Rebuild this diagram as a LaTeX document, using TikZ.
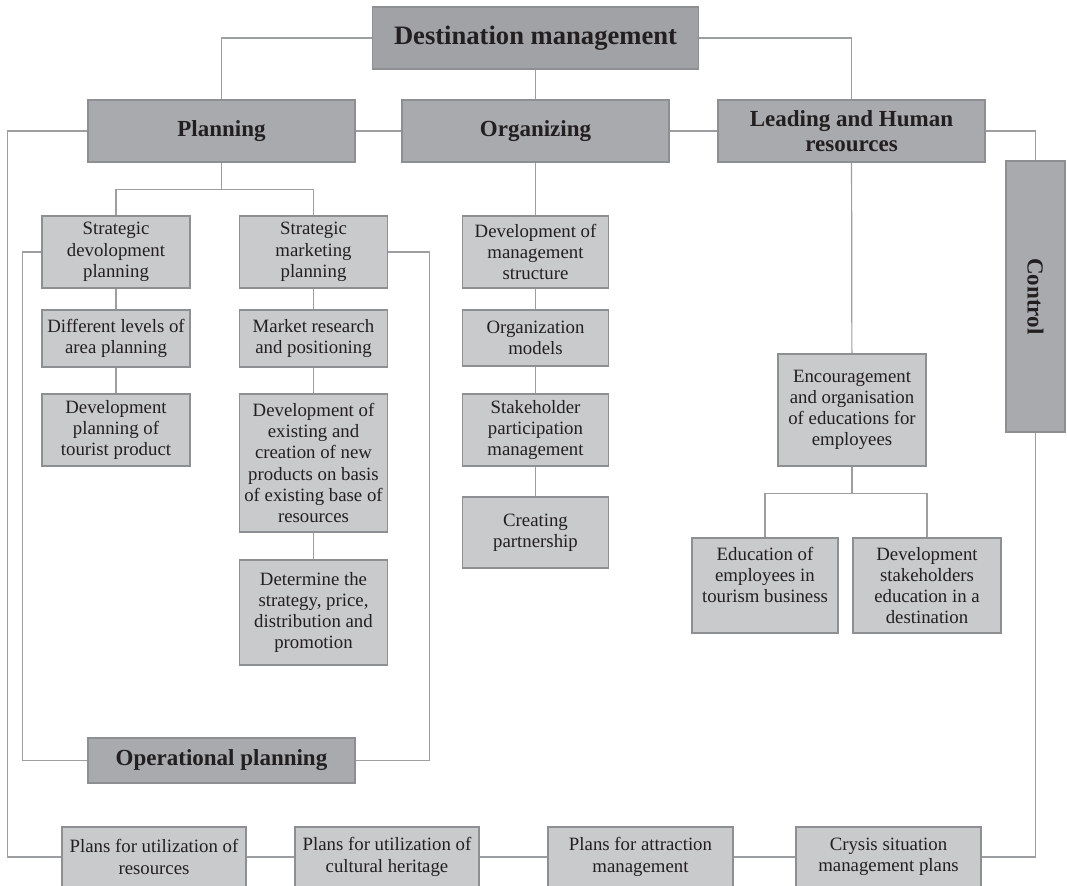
\documentclass[tikz,border=0pt]{standalone}
\usepackage{fontspec}
\setmainfont{Liberation Serif}

\definecolor{boxdark}{HTML}{A8AAAD}
\definecolor{boxtop}{HTML}{A0A2A5}
\definecolor{boxlight}{HTML}{C9CACC}
\definecolor{edgegray}{HTML}{8E8F92}
\definecolor{linegray}{HTML}{9D9EA1}
\definecolor{inkgray}{HTML}{231F20}

\tikzset{
  box/.style={draw=edgegray, line width=0.8pt, inner sep=0pt, align=center, text=inkgray},
  headbox/.style={box, fill=boxdark, minimum width=133.5pt, minimum height=31pt,
    font=\fontsize{11.5}{12.5}\selectfont\bfseries},
  itembox/.style={box, fill=boxlight, minimum width=74pt,
    font=\fontsize{9.4}{10.6}\selectfont},
  link/.style={draw=linegray, line width=0.6pt},
}

\begin{document}
\begin{tikzpicture}[x=0.5pt, y=-0.5pt]
   \useasboundingbox (0,0) rectangle (1067,886);

   % top levels
   \node[headbox, fill=boxtop, minimum width=163pt, font=\fontsize{13.3}{14}\selectfont\bfseries] (dest) at (535.5,38) {Destination management};
   \node[headbox] (plan) at (221.5,131) {Planning};
   \node[headbox] (org) at (535.5,131) {Organizing};
   \node[headbox] (lead) at (851.5,131) {Leading and Human\\resources};
   \node[headbox, minimum width=29.5pt, minimum height=135.5pt] (ctrl) at (1035.5,296.5) {\rotatebox{-90}{Control}};

   % planning
   \node[itembox, minimum height=36pt] (sdp) at (116,252) {Strategic\\devolopment\\planning};
   \node[itembox, minimum height=36pt] (smp) at (313.5,252) {Strategic\\marketing\\planning};
   \node[itembox, minimum height=28.5pt] (dlap) at (116,338.5) {Different levels of\\area planning};
   \node[itembox, minimum height=36pt] (dptp) at (116,430) {Development\\planning of\\tourist product};
   \node[itembox, minimum height=28.5pt] (mrp) at (313.5,338.5) {Market research\\and positioning};
   \node[itembox, minimum height=69pt] (deve) at (313.5,463) {Development of\\existing and\\creation of new\\products on basis\\of existing base of\\resources};
   \node[itembox, minimum height=52.5pt] (dsp) at (313.5,612.5) {Determine the\\strategy, price,\\distribution and\\promotion};
   \node[headbox, minimum height=22.5pt] (op) at (221.5,760.5) {Operational planning};

   % organizing
   \node[itembox, minimum width=73pt, minimum height=36pt] (dms) at (535.5,252) {Development of\\management\\structure};
   \node[itembox, minimum width=73pt, minimum height=28pt] (om) at (535.5,338) {Organization\\models};
   \node[itembox, minimum width=73pt, minimum height=36pt] (spm) at (535.5,430) {Stakeholder\\participation\\management};
   \node[itembox, minimum width=73pt, minimum height=35.5pt] (cp) at (535.5,532.5) {Creating\\partnership};

   % leading
   \node[itembox, minimum height=56pt] (enc) at (852,410) {Encouragement\\and organisation\\of educations for\\employees};
   \node[itembox, minimum width=73pt, minimum height=47.5pt] (ede) at (765,585.5) {Education of\\employees in\\tourism business\\\mbox{}};
   \node[itembox, minimum height=47.5pt] (dse) at (927,585.5) {Development\\stakeholders\\education in a\\destination};

   % plans row
   \node[itembox, minimum width=92pt, minimum height=30pt] (pur) at (154,857) {Plans for utilization of\\resources};
   \node[itembox, minimum width=92pt, minimum height=30pt] (puc) at (387,857) {Plans for utilization of\\cultural heritage};
   \node[itembox, minimum width=92.5pt, minimum height=30pt] (pam) at (640.5,857) {Plans for attraction\\management};
   \node[itembox, minimum width=92.5pt, minimum height=30pt] (csm) at (888.5,857) {Crysis situation\\management plans};

   % links
   \draw[link] (dest.west) -| (plan.north);
   \draw[link] (dest.east) -| (lead.north);
   \draw[link] (dest) -- (org);
   \draw[link] (plan) -- (org) -- (lead);
   \draw[link] (lead.east) -| (ctrl.north);
   \draw[link] (plan.west) -- ++(-80,0) |- (pur.west);
   \draw[link] (pur) -- (puc) -- (pam) -- (csm);
   \draw[link] (csm.east) -| (ctrl.south);

   \draw[link] (plan.south) -- ++(0,27) coordinate (pfork);
   \draw[link] (pfork) -| (sdp.north);
   \draw[link] (pfork) -| (smp.north);
   \draw[link] (sdp.west) -- ++(-19,0) |- (op.west);
   \draw[link] (smp.east) -- ++(41,0) |- (op.east);
   \draw[link] (sdp) -- (dlap) -- (dptp);
   \draw[link] (smp) -- (mrp) -- (deve) -- (dsp);

   \draw[link] (org) -- (dms) -- (om) -- (spm) -- (cp);

   \draw[link] (lead) -- (enc);
   \draw[link] (enc.south) -- ++(0,27) coordinate (efork);
   \draw[link] (efork) -| (ede.north);
   \draw[link] (efork) -| (dse.north);
\end{tikzpicture}
\end{document}
